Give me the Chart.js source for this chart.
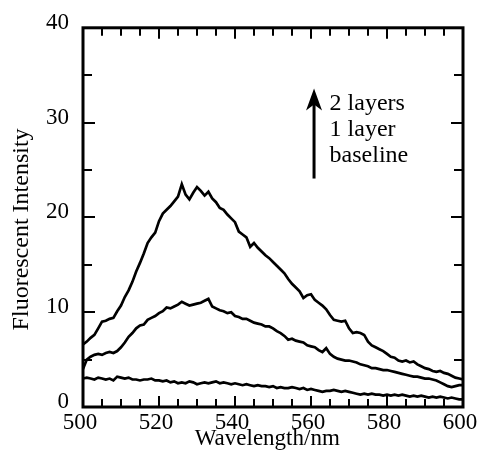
<!DOCTYPE html>
<html>
<head>
<meta charset="utf-8">
<script src="https://cdn.jsdelivr.net/npm/chart.js@4.4.1/dist/chart.umd.min.js"></script>
<style>
  html, body { margin: 0; padding: 0; background: #fff; }
  #wrap { width: 479px; height: 453px; position: relative; }
</style>
</head>
<body>
<div id="wrap"><canvas id="myChart"></canvas></div>
<script>
// wavelength, nm
var wavelength = [
  500, 501, 502, 503, 504, 505, 506, 507, 508, 509,
  510, 511, 512, 513, 514, 515, 516, 517, 518, 519,
  520, 521, 522, 523, 524, 525, 526, 527, 528, 529,
  530, 531, 532, 533, 534, 535, 536, 537, 538, 539,
  540, 541, 542, 543, 544, 545, 546, 547, 548, 549,
  550, 551, 552, 553, 554, 555, 556, 557, 558, 559,
  560, 561, 562, 563, 564, 565, 566, 567, 568, 569,
  570, 571, 572, 573, 574, 575, 576, 577, 578, 579,
  580, 581, 582, 583, 584, 585, 586, 587, 588, 589,
  590, 591, 592, 593, 594, 595, 596, 597, 598, 599, 600
];

var twoLayers = [
  6.6, 6.9, 7.3, 7.6, 8.3, 9.0, 9.1, 9.3, 9.4, 10.1,
  10.7, 11.6, 12.3, 13.2, 14.3, 15.2, 16.2, 17.3, 17.9, 18.4,
  19.6, 20.4, 20.8, 21.2, 21.7, 22.2, 23.5, 22.4, 21.9, 22.6,
  23.2, 22.8, 22.3, 22.7, 22.0, 21.6, 21.0, 20.8, 20.3, 19.9,
  19.5, 18.5, 18.2, 17.9, 16.9, 17.3, 16.8, 16.4, 16.0, 15.7,
  15.3, 14.9, 14.5, 14.1, 13.5, 13.0, 12.6, 12.2, 11.5, 11.8,
  11.9, 11.3, 11.0, 10.7, 10.3, 9.7, 9.2, 9.1, 9.0, 9.1,
  8.3, 7.8, 7.9, 7.8, 7.6, 6.9, 6.5, 6.3, 6.1, 5.9,
  5.6, 5.3, 5.2, 4.9, 4.8, 4.9, 4.7, 4.8, 4.5, 4.3,
  4.1, 4.0, 3.8, 3.7, 3.8, 3.6, 3.5, 3.3, 3.1, 3.0, 2.9
];

var oneLayer = [
  4.0, 5.0, 5.3, 5.5, 5.6, 5.5, 5.7, 5.8, 5.7, 5.9,
  6.3, 6.8, 7.4, 7.8, 8.3, 8.6, 8.7, 9.2, 9.4, 9.6,
  9.9, 10.1, 10.5, 10.4, 10.6, 10.8, 11.1, 10.9, 10.7, 10.8,
  10.9, 11.0, 11.2, 11.4, 10.6, 10.4, 10.2, 10.1, 9.9, 10.0,
  9.6, 9.5, 9.3, 9.3, 9.1, 8.9, 8.8, 8.7, 8.5, 8.5,
  8.3, 8.0, 7.8, 7.5, 7.1, 7.2, 7.0, 6.9, 6.8, 6.5,
  6.4, 6.3, 6.0, 5.8, 6.2, 5.6, 5.3, 5.1, 5.0, 4.9,
  4.9, 4.8, 4.7, 4.5, 4.4, 4.3, 4.1, 4.1, 4.0, 3.9,
  3.9, 3.8, 3.7, 3.6, 3.5, 3.4, 3.3, 3.2, 3.2, 3.1,
  3.0, 3.0, 2.9, 2.8, 2.6, 2.4, 2.2, 2.1, 2.2, 2.3, 2.3
];

var baseline = [
  3.0, 3.1, 3.0, 2.9, 3.1, 3.0, 2.9, 3.0, 2.8, 3.2,
  3.1, 3.0, 3.1, 2.9, 2.9, 2.8, 2.9, 2.9, 3.0, 2.8,
  2.8, 2.7, 2.8, 2.6, 2.7, 2.5, 2.6, 2.5, 2.7, 2.6,
  2.4, 2.5, 2.6, 2.5, 2.6, 2.7, 2.5, 2.6, 2.5, 2.4,
  2.5, 2.4, 2.3, 2.4, 2.3, 2.2, 2.3, 2.2, 2.2, 2.1,
  2.2, 2.0, 2.1, 2.0, 2.0, 2.1, 2.0, 1.9, 2.0, 1.8,
  1.9, 1.8, 1.7, 1.6, 1.7, 1.7, 1.8, 1.7, 1.6, 1.7,
  1.6, 1.5, 1.4, 1.3, 1.4, 1.3, 1.4, 1.3, 1.3, 1.2,
  1.3, 1.2, 1.3, 1.2, 1.3, 1.2, 1.1, 1.2, 1.1, 1.2,
  1.1, 1.0, 1.1, 1.0, 1.1, 1.0, 0.9, 1.0, 0.9, 0.8, 0.8
];

var legendLines = ['2 layers', '1 layer', 'baseline'];

var serif = '"Liberation Serif", "DejaVu Serif", serif';

function toPoints(values) {
  return values.map(function (v, i) { return { x: wavelength[i], y: v }; });
}

function makeSet(label, values) {
  return {
    label: label,
    data: toPoints(values),
    borderColor: '#000',
    backgroundColor: '#000',
    borderWidth: 2.7,
    pointRadius: 0,
    tension: 0,
    fill: false
  };
}

// frame with inward ticks on all four sides + the arrow note
var frameTicks = {
  id: 'frameTicks',
  afterDraw: function (chart) {
    var ctx = chart.ctx;
    var a = chart.chartArea;
    var xs = chart.scales.x, ys = chart.scales.y;
    ctx.save();
    ctx.strokeStyle = '#000';
    ctx.lineWidth = 2;
    ctx.beginPath();
    var v, px, len;
    for (v = 505; v < 600; v += 5) {
      px = Math.round(xs.getPixelForValue(v));
      len = (v % 20 === 0) ? 11 : 8;
      ctx.moveTo(px, a.bottom); ctx.lineTo(px, a.bottom - len);
      ctx.moveTo(px, a.top); ctx.lineTo(px, a.top + len);
    }
    for (v = 5; v < 40; v += 5) {
      px = Math.round(ys.getPixelForValue(v));
      len = (v % 10 === 0) ? 12 : 9;
      ctx.moveTo(a.left, px); ctx.lineTo(a.left + len, px);
      ctx.moveTo(a.right, px); ctx.lineTo(a.right - len, px);
    }
    ctx.stroke();
    ctx.lineWidth = 3;
    ctx.strokeRect(a.left, a.top, a.right - a.left, a.bottom - a.top);

    // arrow
    var ax = xs.getPixelForValue(560.8);
    var aTop = ys.getPixelForValue(33.6);
    var aBot = ys.getPixelForValue(24.1);
    ctx.lineWidth = 3;
    ctx.beginPath();
    ctx.moveTo(ax, aBot); ctx.lineTo(ax, aTop + 12);
    ctx.stroke();
    ctx.fillStyle = '#000';
    ctx.beginPath();
    ctx.moveTo(ax, aTop);
    ctx.lineTo(ax - 8, aTop + 22);
    ctx.lineTo(ax, aTop + 16);
    ctx.lineTo(ax + 8, aTop + 22);
    ctx.closePath();
    ctx.fill();

    ctx.font = '24px ' + serif;
    ctx.textBaseline = 'middle';
    ctx.textAlign = 'left';
    var tx = xs.getPixelForValue(564.9);
    var ty = ys.getPixelForValue(32.0);
    legendLines.forEach(function (t, i) {
      ctx.fillText(t, tx, ty + i * 26);
    });
    ctx.restore();
  }
};

var ctx = document.getElementById('myChart').getContext('2d');
var myChart = new Chart(ctx, {
  type: 'line',
  data: {
    datasets: [
      makeSet('2 layers', twoLayers),
      makeSet('1 layer', oneLayer),
      makeSet('baseline', baseline)
    ]
  },
  options: {
    responsive: true,
    maintainAspectRatio: false,
    animation: false,
    layout: { padding: { top: 27, right: 16, left: 0, bottom: 0 } },
    plugins: {
      legend: { display: false },
      tooltip: { enabled: false }
    },
    scales: {
      x: {
        type: 'linear',
        min: 500,
        max: 600,
        grid: { display: false, drawTicks: false },
        border: { display: false },
        ticks: {
          stepSize: 20,
          color: '#000',
          padding: 2,
          labelOffset: -3,
          maxRotation: 0,
          font: { family: serif, size: 23 }
        },
        title: {
          display: true,
          text: 'Wavelength/nm  ',
          color: '#000',
          padding: { top: 0, bottom: 0 },
          font: { family: serif, size: 23 }
        },
        afterFit: function (scale) {
          scale.height = 46;
          scale.paddingLeft = 0;
          scale.paddingRight = 12;
        }
      },
      y: {
        min: 0,
        max: 40,
        grid: { display: false, drawTicks: false },
        border: { display: false },
        ticks: {
          stepSize: 10,
          color: '#000',
          padding: 14,
          labelOffset: -5,
          font: { family: serif, size: 23 }
        },
        title: {
          display: true,
          text: 'Fluorescent Intensity    ',
          color: '#000',
          padding: { top: 7, bottom: 0 },
          font: { family: serif, size: 24 }
        },
        afterFit: function (scale) { scale.width = 83; }
      }
    }
  },
  plugins: [frameTicks]
});
</script>
</body>
</html>
